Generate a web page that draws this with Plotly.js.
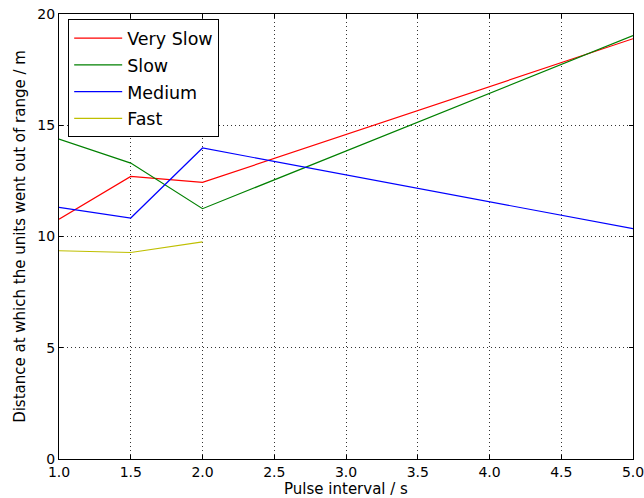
<!DOCTYPE html>
<html>
<head>
<meta charset="utf-8">
<script src="https://cdn.plot.ly/plotly-3.0.1.min.js"></script>
<style>html,body{margin:0;padding:0;background:#fff;}#chart{width:644px;height:498px;}</style>
</head>
<body>
<div id="chart"></div>
<script>
const pulseInterval = [1.0, 1.5, 2.0, 5.0];
const verySlow = [10.78, 12.70, 12.43, 18.89];
const slow = [14.38, 13.30, 11.25, 19.03];
const medium = [11.31, 10.83, 13.98, 10.35];
const fastX = [1.0, 1.5, 2.0];
const fast = [9.36, 9.28, 9.76];
const seriesNames = ["Very Slow", "Slow", "Medium", "Fast"];
const seriesColors = ["#ff0000", "#008000", "#0000ff", "#bfbf00"];

const traces = [
  {x: pulseInterval, y: verySlow},
  {x: pulseInterval, y: slow},
  {x: pulseInterval, y: medium},
  {x: fastX, y: fast}
].map((t, i) => Object.assign(t, {
  type: 'scatter', mode: 'lines', name: seriesNames[i], legendgroup: 'g' + i,
  line: {color: seriesColors[i], width: 1.2}
}));

const axisCommon = {
  showline: true, linecolor: '#000', linewidth: 1, mirror: 'ticks',
  ticks: 'inside', ticklen: 4, tickcolor: '#000',
  showgrid: true, gridcolor: '#000', griddash: '1px,3px', gridwidth: 0.8,
  zeroline: false, automargin: false, ticklabeloverflow: 'allow',
  tickfont: {family: 'DejaVu Sans', size: 14, color: '#000'}
};

const layout = {
  width: 644, height: 498,
  margin: {l: 59, r: 11, t: 14, b: 39},
  paper_bgcolor: '#fff', plot_bgcolor: '#fff',
  font: {family: 'DejaVu Sans', color: '#000'},
  xaxis: Object.assign({}, axisCommon, {
    range: [1.0, 5.0], tickvals: [1.0,1.5,2.0,2.5,3.0,3.5,4.0,4.5,5.0],
    ticktext: ['1.0','1.5','2.0','2.5','3.0','3.5','4.0','4.5','5.0'],
    title: {text: 'Pulse interval / s', font: {family: 'DejaVu Sans', size: 15}, standoff: 1}
  }),
  yaxis: Object.assign({}, axisCommon, {
    range: [0, 20], tickvals: [0,5,10,15,20],
    title: {text: 'Distance at which the units went out of range / m', font: {family: 'DejaVu Sans', size: 15}, standoff: 8}
  }),
  showlegend: true,
  legend: {
    x: 0.016, y: 0.988, xanchor: 'left', yanchor: 'top',
    bgcolor: '#fff', bordercolor: '#000', borderwidth: 1,
    font: {family: 'DejaVu Sans', size: 17.5, color: '#000'},
    itemwidth: 48, tracegroupgap: 1
  }
};

Plotly.newPlot('chart', traces, layout, {displayModeBar: false, staticPlot: true});
</script>
</body>
</html>
